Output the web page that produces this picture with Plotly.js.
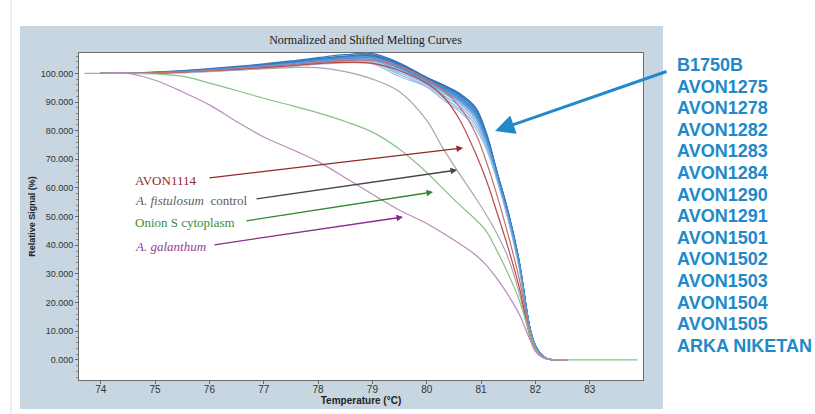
<!DOCTYPE html>
<html>
<head>
<meta charset="utf-8">
<script src="https://cdn.plot.ly/plotly-3.0.1.min.js"></script>
<style>
  html, body { margin: 0; padding: 0; background: #ffffff; }
  #chart { width: 815px; height: 414px; }
</style>
</head>
<body>
<div id="chart"></div>
<script>
// ---------------- data ----------------
const tempGrid = [74.0, 74.5, 75.0, 75.5, 76.0, 76.5, 77.0, 77.5, 78.0, 78.5, 79.0, 79.5, 80.0, 80.3, 80.6, 80.9, 81.1, 81.3, 81.5, 81.7, 81.9, 82.0, 82.1, 82.2, 82.3, 82.6];

const blueNames = ["B1750B", "AVON1275", "AVON1278", "AVON1282", "AVON1283", "AVON1284", "AVON1290", "AVON1291", "AVON1501", "AVON1502", "AVON1503", "AVON1504", "AVON1505", "ARKA NIKETAN"];

const sigB1750B   = [100.0, 100.0, 100.2, 100.6, 101.2, 101.8, 102.5, 103.4, 104.4, 105.3, 105.8, 102.8, 98.2, 95.5, 92.4, 87.4, 78.2, 64.6, 51.2, 34.2, 10.9, 4.9, 2.0, 0.6, 0.1, 0.0];
const sigAVON1275 = [100.0, 100.0, 100.3, 100.8, 101.5, 102.2, 103.0, 104.0, 105.1, 106.0, 106.4, 103.4, 98.6, 96.0, 93.0, 88.0, 79.0, 65.2, 51.6, 34.6, 11.1, 5.0, 2.0, 0.6, 0.1, 0.0];
const sigAVON1278 = [100.0, 100.0, 100.1, 100.5, 101.0, 101.6, 102.3, 103.1, 104.0, 104.9, 105.4, 102.2, 97.8, 95.0, 91.8, 86.6, 77.6, 64.2, 50.8, 33.9, 10.8, 4.9, 1.9, 0.6, 0.1, 0.0];
const sigAVON1282 = [100.0, 100.1, 100.4, 100.9, 101.6, 102.4, 103.3, 104.3, 105.5, 106.5, 106.9, 103.6, 98.4, 95.6, 92.5, 87.6, 78.4, 64.8, 51.3, 34.3, 10.9, 4.9, 2.0, 0.6, 0.1, 0.0];
const sigAVON1283 = [100.0, 100.0, 100.1, 100.4, 100.9, 101.4, 102.0, 102.8, 103.7, 104.6, 105.0, 101.6, 97.4, 94.4, 91.0, 85.8, 77.0, 63.8, 50.4, 33.6, 10.7, 4.8, 1.9, 0.6, 0.1, 0.0];
const sigAVON1284 = [100.0, 100.0, 100.2, 100.7, 101.3, 102.0, 102.8, 103.7, 104.8, 105.7, 106.1, 103.1, 98.4, 95.8, 92.7, 87.7, 78.6, 64.9, 51.4, 34.4, 11.0, 5.0, 2.0, 0.6, 0.1, 0.0];
const sigAVON1290 = [100.0, 100.0, 100.0, 100.3, 100.8, 101.3, 101.9, 102.6, 103.5, 104.3, 104.6, 101.0, 97.0, 93.8, 90.3, 84.8, 76.2, 63.6, 50.0, 33.3, 10.6, 4.8, 1.9, 0.6, 0.1, 0.0];
const sigAVON1291 = [100.0, 100.0, 100.2, 100.6, 101.1, 101.7, 102.4, 103.2, 104.2, 105.1, 105.5, 102.0, 97.6, 94.8, 91.5, 86.2, 77.3, 64.0, 50.6, 33.8, 10.8, 4.8, 1.9, 0.6, 0.1, 0.0];
const sigAVON1501 = [100.0, 100.0, 100.1, 100.4, 100.9, 101.5, 102.2, 103.0, 103.9, 104.5, 104.2, 100.2, 96.2, 92.4, 88.6, 83.0, 75.0, 63.0, 49.4, 32.8, 10.4, 4.7, 1.9, 0.5, 0.1, 0.0];
const sigAVON1502 = [100.0, 100.0, 100.0, 100.2, 100.6, 101.1, 101.7, 102.4, 103.2, 103.7, 103.3, 98.9, 95.2, 90.8, 86.8, 80.8, 73.4, 62.2, 48.7, 32.2, 10.1, 4.6, 1.8, 0.5, 0.1, 0.0];
const sigAVON1503 = [100.0, 100.0, 100.1, 100.5, 101.0, 101.6, 102.2, 103.0, 103.9, 104.7, 104.8, 100.8, 96.6, 93.2, 89.6, 84.0, 75.6, 63.3, 49.8, 33.0, 10.5, 4.7, 1.9, 0.5, 0.1, 0.0];
const sigAVON1504 = [100.0, 100.0, 100.3, 100.7, 101.4, 102.1, 102.9, 103.9, 104.9, 105.8, 106.2, 103.0, 98.3, 95.6, 92.6, 87.5, 78.4, 64.7, 51.3, 34.2, 10.9, 4.9, 2.0, 0.6, 0.1, 0.0];
const sigAVON1505 = [100.0, 100.0, 100.0, 100.3, 100.7, 101.2, 101.8, 102.5, 103.3, 104.0, 103.8, 99.6, 95.6, 91.6, 87.6, 82.0, 74.2, 62.6, 49.0, 32.5, 10.2, 4.6, 1.8, 0.5, 0.1, 0.0];
const sigARKA      = [100.0, 100.0, 100.2, 100.6, 101.2, 101.9, 102.6, 103.5, 104.5, 105.4, 105.6, 101.8, 97.2, 94.1, 90.6, 85.2, 76.6, 63.7, 50.2, 33.4, 10.6, 4.8, 1.9, 0.6, 0.1, 0.0];

const blueSeries = [sigB1750B, sigAVON1275, sigAVON1278, sigAVON1282, sigAVON1283, sigAVON1284, sigAVON1290, sigAVON1291, sigAVON1501, sigAVON1502, sigAVON1503, sigAVON1504, sigAVON1505, sigARKA];

// AVON1114 (two replicate curves)
const sigAVON1114a = [100.0, 100.0, 100.1, 100.4, 100.9, 101.4, 102.0, 102.7, 103.4, 103.8, 103.5, 101.0, 96.5, 92.0, 84.0, 72.0, 62.5, 51.0, 39.0, 25.5, 8.6, 3.8, 1.5, 0.4, 0.1, 0.0];
const sigAVON1114b = [100.0, 100.0, 100.2, 100.5, 101.0, 101.6, 102.3, 103.0, 103.8, 104.5, 104.6, 102.5, 97.8, 94.2, 88.5, 79.0, 69.0, 57.0, 43.5, 28.5, 9.4, 4.2, 1.7, 0.5, 0.1, 0.0];
// A. fistulosum control
const sigFistulosum = [100.0, 100.0, 100.1, 100.4, 100.8, 101.2, 101.6, 102.0, 102.0, 100.6, 98.0, 93.6, 83.6, 73.8, 65.0, 56.5, 50.5, 43.8, 35.5, 23.5, 8.0, 3.5, 1.4, 0.4, 0.1, 0.0];
// A. galanthum
const sigGalanthum = [100.0, 100.0, 97.6, 93.6, 89.0, 83.2, 77.8, 73.6, 69.2, 63.6, 57.8, 52.2, 47.6, 44.2, 40.6, 36.6, 33.0, 28.2, 22.6, 16.0, 7.0, 3.0, 1.2, 0.3, 0.1, 0.0];
// Onion S cytoplasm (longer temperature range)
const tempOnion = [73.7, 74.0, 74.5, 75.0, 75.5, 76.0, 76.5, 77.0, 77.5, 78.0, 78.5, 79.0, 79.5, 80.0, 80.3, 80.6, 80.9, 81.1, 81.3, 81.5, 81.7, 81.9, 82.0, 82.1, 82.2, 82.3, 82.6, 83.0, 83.5, 83.88];
const sigOnionS = [100.0, 100.0, 100.0, 99.8, 99.0, 96.6, 94.0, 91.3, 88.8, 86.2, 83.2, 79.5, 73.5, 65.4, 59.8, 54.2, 49.0, 44.8, 37.8, 30.0, 21.0, 9.0, 3.8, 1.4, 0.4, 0.1, 0.0, 0.0, 0.0, 0.0];

const xTickLabels = ["74", "75", "76", "77", "78", "79", "80", "81", "82", "83"];

// ---------------- styling ----------------
const blueColors = ["#3b7cc3", "#2f71bb", "#4a8ccc", "#3577c0", "#5a98d4", "#2d6db8", "#6aa4dc", "#4283c8", "#8cb8e4", "#a0c4ea", "#78acdf", "#3a7cc3", "#94bde6", "#5c9ad5"];

const traces = [];
blueSeries.forEach((ys, i) => {
  traces.push({
    type: "scatter", mode: "lines", name: blueNames[i],
    x: tempGrid, y: ys,
    line: { color: blueColors[i], width: 1.3, shape: "spline", smoothing: 1 },
    hoverinfo: "skip"
  });
});
traces.push({ type: "scatter", mode: "lines", name: "A. fistulosum", x: tempGrid, y: sigFistulosum,
  line: { color: "#aaa6aa", width: 1.2, shape: "spline", smoothing: 1 }, hoverinfo: "skip" });
traces.push({ type: "scatter", mode: "lines", name: "AVON1114", x: tempGrid, y: sigAVON1114a,
  line: { color: "#b84a4c", width: 1.2, shape: "spline", smoothing: 1 }, hoverinfo: "skip" });
traces.push({ type: "scatter", mode: "lines", name: "AVON1114 rep", x: tempGrid, y: sigAVON1114b,
  line: { color: "#c4706f", width: 1.2, shape: "spline", smoothing: 1 }, hoverinfo: "skip" });
traces.push({ type: "scatter", mode: "lines", name: "Onion S cytoplasm", x: tempOnion, y: sigOnionS,
  line: { color: "#86c286", width: 1.2, shape: "spline", smoothing: 1 }, hoverinfo: "skip" });
traces.push({ type: "scatter", mode: "lines", name: "A. galanthum", x: tempGrid, y: sigGalanthum,
  line: { color: "#bd8abd", width: 1.2, shape: "spline", smoothing: 1 }, hoverinfo: "skip" });

// pixel -> paper helpers (plot area spans px 79..643 horizontally, 53..380 vertically)
const L = 79, R = 643, T = 53, B = 380;
const PX = x => (x - L) / (R - L);
const PY = y => (B - y) / (B - T);

const annotations = [];
const ctrlLabels = [
  { text: "AVON1114", color: "#8e2a2a", y: 180, tip: [463, 148], tail: [208, 178], arrow: "#8e2a2a" },
  { text: "<i>A. fistulosum</i>  control", color: "#5e5e5e", y: 200.5, tip: [457, 170], tail: [255, 199], arrow: "#444444" },
  { text: "Onion S cytoplasm", color: "#3b8d3b", y: 222.5, tip: [433, 192], tail: [245, 221], arrow: "#2f8a2f" },
  { text: "<i>A. galanthum</i>", color: "#963c96", y: 246.5, tip: [403, 217], tail: [213, 245], arrow: "#8a2a8a" }
];
ctrlLabels.forEach(c => {
  annotations.push({ xref: "paper", yref: "paper", x: PX(133), y: PY(c.y), xanchor: "left", yanchor: "middle",
    text: c.text, showarrow: false, font: { family: "Liberation Serif, serif", size: 13, color: c.color } });
  annotations.push({ xref: "paper", yref: "paper", x: PX(c.tip[0]), y: PY(c.tip[1]),
    ax: c.tail[0] - c.tip[0], ay: c.tail[1] - c.tip[1], text: "", showarrow: true,
    arrowhead: 2, arrowsize: 1, arrowwidth: 1.3, arrowcolor: c.arrow });
});
annotations.push({ xref: "paper", yref: "paper", x: PX(495), y: PY(131), ax: 668 - 495, ay: 71 - 131,
  text: "", showarrow: true, arrowhead: 2, arrowsize: 1.3, arrowwidth: 3, arrowcolor: "#2089cc" });
blueNames.forEach((n, i) => {
  annotations.push({ xref: "paper", yref: "paper", x: PX(675), y: PY(65 + i * 21.6), xanchor: "left", yanchor: "middle",
    text: "<b>" + n + "</b>", showarrow: false, font: { family: "Liberation Sans, Arial, sans-serif", size: 18, color: "#2189c9" } });
});

const shapes = [
  { type: "rect", xref: "paper", yref: "paper", x0: PX(20), x1: PX(663), y0: PY(409), y1: PY(26),
    fillcolor: "#c7d6e0", line: { width: 0 }, layer: "below" },
  { type: "rect", xref: "paper", yref: "paper", x0: 0, x1: 1, y0: 0, y1: 1,
    fillcolor: "#ffffff", line: { width: 0 }, layer: "below" },
  { type: "line", xref: "paper", yref: "paper", x0: PX(11), x1: PX(11), y0: PY(0), y1: PY(414),
    line: { color: "#dddddd", width: 1 }, layer: "below" }
];

const layout = {
  width: 815, height: 414,
  margin: { l: L, r: 815 - R, t: T, b: 414 - B, pad: 0 },
  paper_bgcolor: "#ffffff", plot_bgcolor: "#ffffff",
  showlegend: false, hovermode: false,
  title: { text: "Normalized and Shifted Melting Curves", xref: "paper", x: PX(365.5), xanchor: "center",
    yref: "container", y: 1 - 40 / 414, yanchor: "middle",
    font: { family: "Liberation Serif, serif", size: 12, color: "#222222" } },
  xaxis: {
    range: [73.6, 83.98], tickmode: "array", tickvals: xTickLabels.map(Number), ticktext: xTickLabels,
    showline: true, mirror: true, linecolor: "#6b6b6b", linewidth: 1,
    ticks: "outside", ticklen: 3, tickcolor: "#6b6b6b", showgrid: false, zeroline: false,
    ticklabelstandoff: -3,
    tickfont: { family: "Liberation Sans, Arial, sans-serif", size: 10, color: "#333333" },
    title: { text: "<b>Temperature (°C)</b>", standoff: 0,
      font: { family: "Liberation Sans, Arial, sans-serif", size: 10, color: "#222222" } }
  },
  yaxis: {
    range: [-7, 107.1], tick0: 0, dtick: 10, tickformat: ".3f",
    showline: true, mirror: true, linecolor: "#6b6b6b", linewidth: 1,
    ticks: "outside", ticklen: 3, tickcolor: "#6b6b6b", showgrid: false, zeroline: false,
    minor: { dtick: 2, ticks: "outside", ticklen: 2, tickcolor: "#8a8a8a", showgrid: false },
    tickfont: { family: "Liberation Sans, Arial, sans-serif", size: 9, color: "#333333" },
    title: { text: "<b>Relative Signal (%)</b>", standoff: 3,
      font: { family: "Liberation Sans, Arial, sans-serif", size: 9, color: "#222222" } }
  },
  shapes: shapes,
  annotations: annotations
};

Plotly.newPlot("chart", traces, layout, { displayModeBar: false, staticPlot: true });
</script>
</body>
</html>
